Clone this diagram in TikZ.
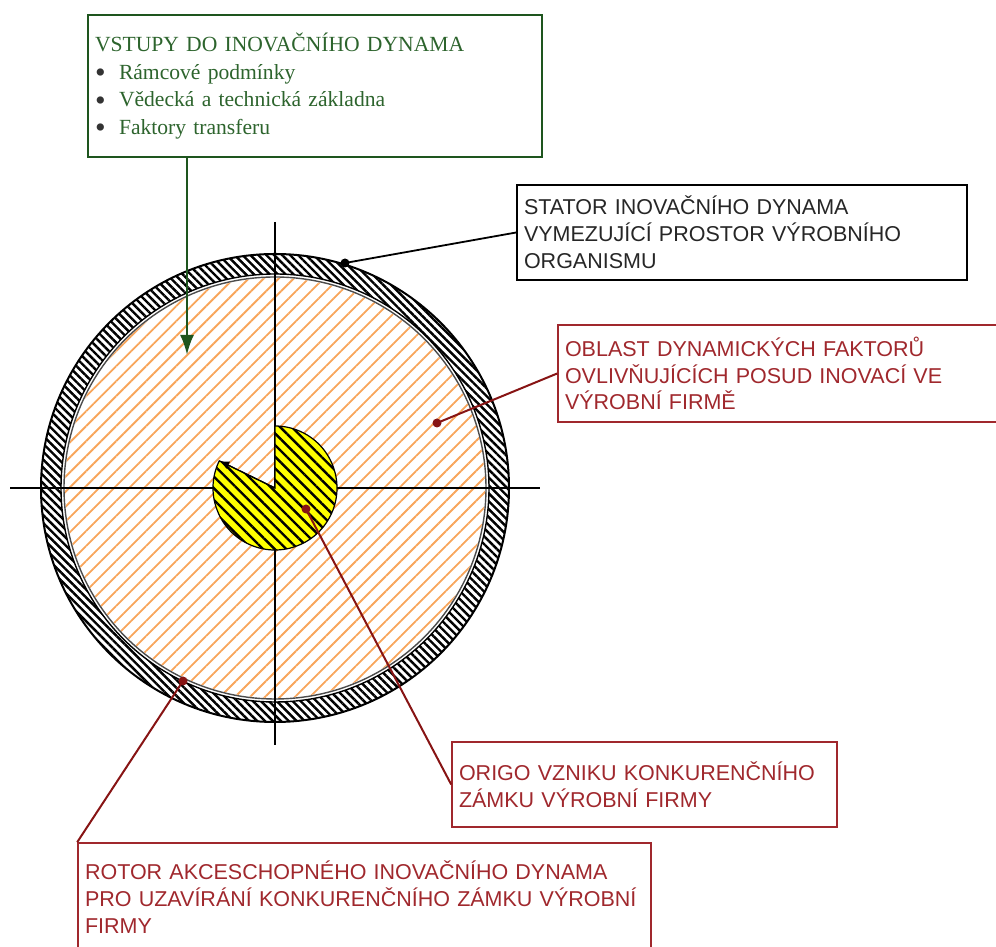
\documentclass[tikz,border=0pt]{standalone}
\usepackage{fontspec}
\setmainfont{Liberation Serif}
\setsansfont{Liberation Sans}
\usetikzlibrary{patterns.meta,arrows.meta,positioning}
\definecolor{dkgreen}{RGB}{30,85,30}
\definecolor{txgreen}{RGB}{45,100,45}
\definecolor{dkred}{RGB}{160,40,45}
\definecolor{lnred}{RGB}{135,20,20}
\definecolor{hatchorange}{RGB}{248,165,90}
\definecolor{rotoryellow}{RGB}{255,255,0}
\newcommand{\bul}{\makebox[12pt][l]{\color{black!80}\smash{\raisebox{-0.35ex}{\scalebox{1.4}{\textbullet}}}}}
\tikzstyle{arrow} = [line width=1.2pt,-{Latex[length=10pt,width=7pt]}]
\tikzset{
 box/.style
  = {rectangle, draw, line width=0.8pt, inner xsep=3.5pt, inner ysep=0pt,
     align=left, font=\sffamily\fontsize{10.75}{13.4}\selectfont},
 redbox/.style
  = {box, draw=dkred, text=dkred},
 l/.style
  = {draw, lnred, line width=1pt},
 dot/.style
  = {circle, fill, inner sep=0pt, minimum size=4.5pt},
 axis/.style
  = {draw, black, line width=0.8pt},
}

\begin{document}
\begin{tikzpicture}[x=0.5pt, y=0.5pt]
\useasboundingbox (0,0) rectangle (996,947);

\coordinate (C) at (275,459);

% Oblast
\path[pattern={Lines[angle=45,distance=5.3pt,line width=0.9pt]}, pattern color=hatchorange]
  (C) circle[radius=210];
% Rotor
\draw[black!70, line width=0.7pt] (C) circle[radius=211];
% Stator
\path[pattern={Lines[angle=-45,distance=2.8pt,line width=1.2pt]}, pattern color=black, even odd rule]
  (C) circle[radius=234] (C) circle[radius=214];
\draw[line width=1pt] (C) circle[radius=234];
\draw[line width=0.7pt] (C) circle[radius=214];

% Axes
\draw[axis] (10,459) -- (540,459);
\draw[axis] (275,725) -- (275,202);

% Origo
\draw[line width=0.6pt, fill=rotoryellow,
      postaction={pattern={Lines[angle=-45,distance=4.1pt,line width=1.2pt]}, pattern color=black}]
  (C) -- ++(154:62) arc[start angle=154, end angle=450, radius=62] -- cycle;
\draw[line width=0.6pt, -{Latex[length=5pt,width=4pt]}] (C) -- ++(154:62);

% Boxes
\node[box, draw=dkgreen, text=txgreen, line width=1.1pt, text width=220pt, minimum height=71pt,
      font=\rmfamily\fontsize{10.8}{13.8}\selectfont] (vstupy) at (315,861)
  {VSTUPY DO INOVAČNÍHO DYNAMA\\
   \bul Rámcové podmínky\\
   \bul Vědecká a technická základna\\
   \bul Faktory transferu};
\node[box, text=black!85, text width=218pt, minimum height=47.5pt] (stator) at (742,714.5)
  {STATOR INOVAČNÍHO DYNAMA\\ VYMEZUJÍCÍ PROSTOR VÝROBNÍHO\\ ORGANISMU};
\node[redbox, text width=219pt, minimum height=48.5pt] (oblast) at (784,573.5)
  {OBLAST DYNAMICKÝCH FAKTORŮ\\ OVLIVŇUJÍCÍCH POSUD INOVACÍ VE\\ VÝROBNÍ FIRMĚ};
\node[redbox, text width=185.5pt, minimum height=42.5pt] (origo) at (644.5,162.5)
  {ORIGO VZNIKU KONKURENČNÍHO\\ ZÁMKU VÝROBNÍ FIRMY};
\node[redbox, text width=279.5pt, minimum height=54pt] (rotor) at (364.5,50)
  {ROTOR AKCESCHOPNÉHO INOVAČNÍHO DYNAMA\\ PRO UZAVÍRÁNÍ KONKURENČNÍHO ZÁMKU VÝROBNÍ\\ FIRMY};

% Connectors
\coordinate (vstupyEnd) at (187,592);
\draw[arrow, dkgreen] (vstupyEnd |- vstupy.south) -- (vstupyEnd);

\node[dot, black] (statorDot) at (345,684) {};
\draw[line width=0.9pt] (statorDot.center) -- (stator.west);

\node[dot, lnred] (oblastDot) at (437,524) {};
\draw[l] (oblastDot.center) -- (oblast.west);

\node[dot, lnred] (origoDot) at (306,438) {};
\draw[l] (origoDot.center) -- (origo.west);

\node[dot, lnred] (rotorDot) at (183,266) {};
\draw[l] (rotorDot.center) -- (rotor.north west);

\end{tikzpicture}
\end{document}
